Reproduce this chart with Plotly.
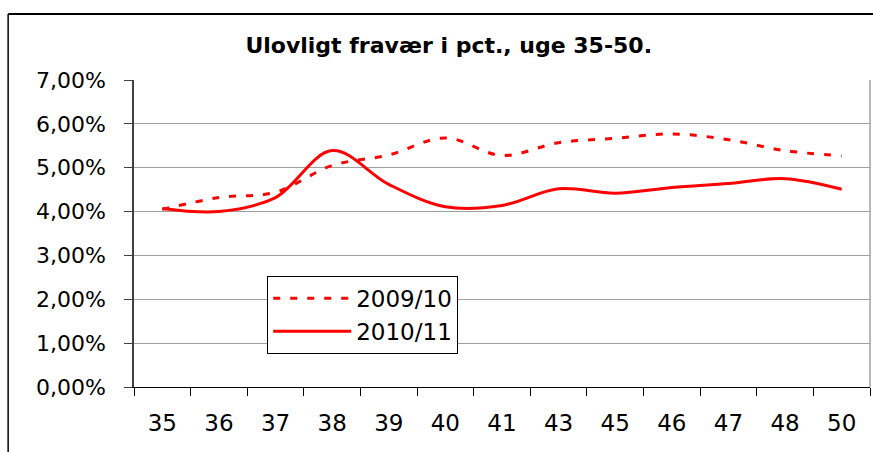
import plotly.graph_objects as go

weeks = ["35", "36", "37", "38", "39", "40", "41", "43", "45", "46", "47", "48", "50"]
s2009 = [4.05, 4.32, 4.44, 5.05, 5.29, 5.68, 5.28, 5.57, 5.67, 5.77, 5.64, 5.39, 5.27]
s2010 = [4.07, 4.00, 4.32, 5.39, 4.62, 4.11, 4.14, 4.52, 4.42, 4.55, 4.64, 4.75, 4.51]
y_ticks = [0, 1, 2, 3, 4, 5, 6, 7]
y_ticktext = [f"{v:.2f}%".replace(".", ",") for v in y_ticks]
title_text = "Ulovligt fravær i pct., uge 35-50."

FONT = "DejaVu Sans"
RED = "#FF0000"

fig = go.Figure()
fig.add_trace(go.Scatter(
    x=weeks, y=s2009, name="2009/10", mode="lines",
    line=dict(color=RED, width=3, dash="7px,10px", shape="spline", smoothing=1.0),
))
fig.add_trace(go.Scatter(
    x=weeks, y=s2010, name="2010/11", mode="lines",
    line=dict(color=RED, width=3, shape="spline", smoothing=1.0),
))

fig.update_layout(
    width=873, height=452,
    margin=dict(l=134, r=3, t=80, b=65),
    paper_bgcolor="white", plot_bgcolor="white",
    font=dict(family=FONT, color="black"),
    title=dict(text="<b>" + title_text + "</b>", x=0.514, xanchor="center",
               y=1 - 45 / 452, yanchor="middle",
               font=dict(family=FONT, size=22, color="black")),
    showlegend=True,
    legend=dict(x=0.181, y=0.362, xanchor="left", yanchor="top",
                bgcolor="white", bordercolor="black", borderwidth=1,
                font=dict(family=FONT, size=23, color="black"),
                itemwidth=78,
                tracegroupgap=0, traceorder="normal"),
    xaxis=dict(type="category", categoryorder="array", categoryarray=weeks,
               range=[-0.5, len(weeks) - 0.5], tickson="boundaries",
               ticks="outside", ticklen=8, tickcolor="black", tickwidth=1,
               showline=True, linecolor="black", linewidth=1,
               showgrid=False, zeroline=False, fixedrange=True,
               tickfont=dict(family=FONT, size=23, color="black"),
               ticklabelstandoff=15),
    yaxis=dict(range=[0, 7], tickvals=y_ticks, ticktext=y_ticktext,
               ticks="outside", ticklen=8, tickcolor="#404040", tickwidth=1,
               showline=True, linecolor="#404040", linewidth=1.5,
               showgrid=True, gridcolor="#A0A0A0", gridwidth=1,
               zeroline=False, fixedrange=True,
               tickfont=dict(family=FONT, size=22, color="black"),
               ticklabelstandoff=14),
    shapes=[
        dict(type="line", xref="paper", yref="paper", x0=1, x1=1, y0=0, y1=1,
             line=dict(color="#A0A0A0", width=1.5)),
        dict(type="line", xref="paper", yref="paper", x0=-0.171, x1=1.01,
             y0=1.215, y1=1.215, line=dict(color="black", width=2)),
        dict(type="line", xref="paper", yref="paper", x0=-0.171, x1=-0.171,
             y0=-0.3, y1=1.215, line=dict(color="black", width=1.5)),
    ],
)

fig.write_html("out.html", config={"displayModeBar": False},
               post_script="document.body.style.margin='0';")
